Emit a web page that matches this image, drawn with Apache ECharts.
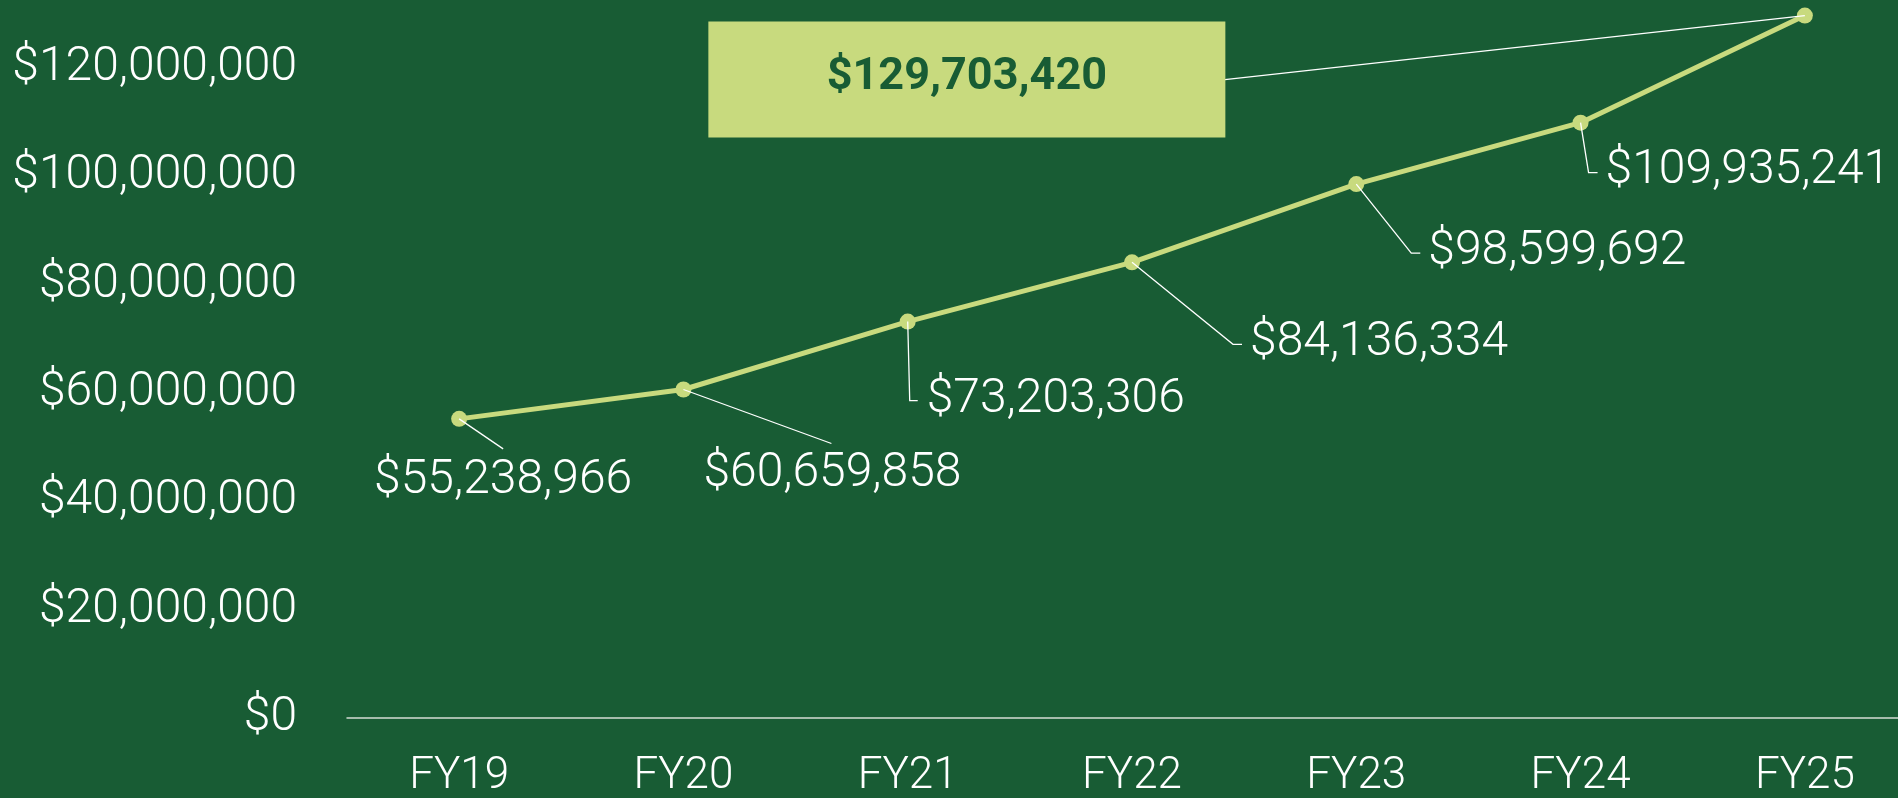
<!DOCTYPE html>
<html>
<head>
<meta charset="utf-8">
<script src="https://cdn.jsdelivr.net/npm/echarts@6/dist/echarts.min.js"></script>
<style>
  html, body { margin: 0; padding: 0; background: #185c34; }
  #chart { width: 1898px; height: 798px; }
</style>
</head>
<body>
<div id="chart"></div>
<script>
const years = ['FY19', 'FY20', 'FY21', 'FY22', 'FY23', 'FY24', 'FY25']
const revenue = [55238966, 60659858, 73203306, 84136334, 98599692, 109935241, 129703420]
const yTicks = [0, 20000000, 40000000, 60000000, 80000000, 100000000, 120000000]
const yTickLabels = ['$0', '$20,000,000', '$40,000,000', '$60,000,000', '$80,000,000', '$100,000,000', '$120,000,000']
const valueLabels = ['$55,238,966', '$60,659,858', '$73,203,306', '$84,136,334', '$98,599,692', '$109,935,241', '$129,703,420']

const BG = '#185c34'
const LIME = '#c8da7e'
const FONT = 'Roboto, "Liberation Sans", sans-serif'

// callout placement relative to each point (px): leader polyline + text anchor
const callouts = [
  { leader: [[44, 30]], text: [44, 62], align: 'center' },
  { leader: [[148, 54]], text: [149, 84], align: 'center' },
  { leader: [[2, 79], [10, 79]], text: [19, 78], align: 'left' },
  { leader: [[101, 82], [110, 82]], text: [118, 81], align: 'left' },
  { leader: [[55, 69], [64, 69]], text: [72, 68], align: 'left' },
  { leader: [[8, 50], [17, 50]], text: [25, 48], align: 'left' },
  { leader: [[-580, 64]], text: [-838, 64], align: 'center', box: [517, 116] }
]

function renderCallout (params, api) {
  const i = params.dataIndex
  const p = api.coord([api.value(0), api.value(1)])
  const c = callouts[i]
  const pts = [p].concat(c.leader.map(d => [p[0] + d[0], p[1] + d[1]]))
  const tx = p[0] + c.text[0]
  const ty = p[1] + c.text[1]
  const children = [{
    type: 'polyline',
    shape: { points: pts },
    style: { stroke: '#ffffff', lineWidth: 1.3, fill: null }
  }]
  if (c.box) {
    children.push({
      type: 'rect',
      shape: { x: tx - c.box[0] / 2, y: ty - c.box[1] / 2, width: c.box[0], height: c.box[1] },
      style: { fill: LIME }
    })
    children.push({
      type: 'text',
      style: {
        x: tx, y: ty - 2, text: valueLabels[i], align: 'center', verticalAlign: 'middle',
        fill: BG, font: 'bold 45px ' + FONT
      }
    })
  } else {
    children.push({
      type: 'text',
      style: {
        x: tx, y: ty, text: valueLabels[i], align: c.align, verticalAlign: 'middle',
        fill: '#ffffff', font: '300 48px ' + FONT
      }
    })
  }
  return { type: 'group', children }
}

const chart = echarts.init(document.getElementById('chart'))
chart.setOption({
  backgroundColor: BG,
  animation: false,
  grid: { left: 347, right: -19, top: 14, bottom: 80, outerBoundsMode: 'none', containLabel: false },
  xAxis: {
    type: 'category',
    data: years,
    boundaryGap: true,
    axisLine: { lineStyle: { color: '#d3dcd3', width: 1.5 } },
    axisTick: { show: false },
    axisLabel: { color: '#ffffff', fontSize: 44, fontFamily: FONT, fontWeight: 300, margin: 37 }
  },
  yAxis: {
    type: 'value',
    min: 0,
    max: 130000000,
    interval: 20000000,
    axisLine: { show: false },
    axisTick: { show: false },
    splitLine: { show: false },
    axisLabel: {
      color: '#ffffff', fontSize: 48, fontFamily: FONT, fontWeight: 300, margin: 50,
      showMaxLabel: false,
      formatter: v => {
        const idx = yTicks.indexOf(v)
        return idx >= 0 ? yTickLabels[idx] : ''
      }
    }
  },
  series: [
    {
      type: 'line',
      data: revenue,
      clip: false,
      z: 2,
      symbol: 'circle',
      symbolSize: 16,
      itemStyle: { color: LIME },
      lineStyle: { color: LIME, width: 5 }
    },
    {
      type: 'custom',
      z: 3,
      data: revenue.map((v, i) => [i, v]),
      renderItem: renderCallout
    }
  ]
})
</script>
</body>
</html>
